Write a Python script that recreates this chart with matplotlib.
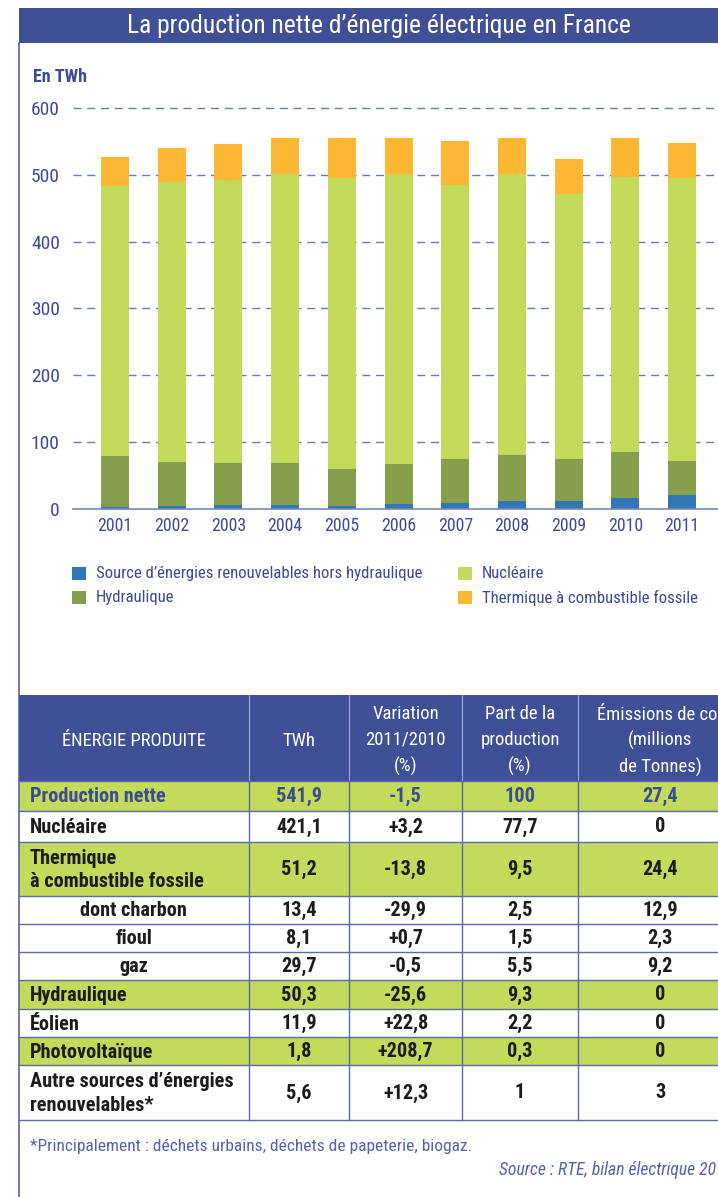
import matplotlib
matplotlib.use("Agg")
import matplotlib.pyplot as plt
from matplotlib.patches import Rectangle
import matplotlib.font_manager as fm
import numpy as np

# ---------------- data ----------------
years = ["2001", "2002", "2003", "2004", "2005", "2006", "2007", "2008", "2009", "2010", "2011"]
renouvelables = [2, 3.5, 5, 5, 3.5, 6.5, 8, 11, 11, 15.5, 20]
hydraulique = [77, 66.5, 63, 63, 56, 60.5, 66.5, 69.5, 63.5, 69.5, 51]
nucleaire = [404, 419, 424, 433.5, 436, 434.5, 410, 421, 397, 412, 425]
fossile = [44, 51, 54, 54, 60, 54, 66, 54, 52.5, 58.5, 52]
yticks = [0, 100, 200, 300, 400, 500, 600]

series_labels = ["Source d\u2019énergies renouvelables hors hydraulique", "Hydraulique",
                 "Nucléaire", "Thermique à combustible fossile"]

title = "La production nette d\u2019énergie électrique en France"
unit_label = "En TWh"

table_header = ["ÉNERGIE PRODUITE", "TWh", "Variation\n2011/2010\n(%)",
                "Part de la\nproduction\n(%)", "Émissions de co\u2082\n(millions\nde Tonnes)"]
row_labels = ["Production nette", "Nucléaire", "Thermique\nà combustible fossile",
              "dont charbon", "fioul", "gaz", "Hydraulique", "Éolien", "Photovoltaïque",
              "Autre sources d\u2019énergies\nrenouvelables*"]
col_twh = ["541,9", "421,1", "51,2", "13,4", "8,1", "29,7", "50,3", "11,9", "1,8", "5,6"]
col_var = ["-1,5", "+3,2", "-13,8", "-29,9", "+0,7", "-0,5", "-25,6", "+22,8", "+208,7", "+12,3"]
col_part = ["100", "77,7", "9,5", "2,5", "1,5", "5,5", "9,3", "2,2", "0,3", "1"]
col_co2 = ["27,4", "0", "24,4", "12,9", "2,3", "9,2", "0", "0", "0", "3"]
highlight_rows = [0, 2, 6, 8]
sub_rows = [3, 4, 5]

footnote = "*Principalement : déchets urbains, déchets de papeterie, biogaz."
source = "Source : RTE, bilan électrique 2011"

# ---------------- style ----------------
avail = {f.name for f in fm.fontManager.ttflist}
COND = "DejaVu Sans"
for cand in ["Roboto Condensed", "Liberation Sans Narrow", "Open Sans Condensed", "Arial Narrow", "Roboto"]:
    if cand in avail:
        COND = cand
        break
plt.rcParams["font.family"] = [COND, "DejaVu Sans"]
plt.rcParams["lines.scale_dashes"] = False

NAVY = "#3f5096"
DARK = "#3d4b94"
GRID = "#6d7ab6"
FRAME = "#4b5aa6"
LINE = "#5a68ad"
C_REN = "#2f77b6"
C_HYD = "#879f4c"
C_NUC = "#c4da5b"
C_FOS = "#fdb733"
GREEN_ROW = "#c4da5a"
TXT = "#1c1c1c"
colors = [C_REN, C_HYD, C_NUC, C_FOS]

W, H = 718, 1197
fig = plt.figure(figsize=(W / 100, H / 100), dpi=100)

bg = fig.add_axes([0, 0, 1, 1])
bg.set_xlim(0, W)
bg.set_ylim(H, 0)
bg.axis("off")

# title bar
bg.add_patch(Rectangle((18.5, 7.5), 740, 35, facecolor=NAVY, edgecolor="none"))
bg.text(379, 25.5, title, ha="center", va="center", color="white", fontsize=18.4)
# frame left line
bg.plot([18.5, 18.5], [42, H + 5], color=FRAME, lw=1.1, solid_capstyle="butt")
bg.text(33, 77, unit_label, ha="left", va="center", color=DARK, fontsize=13, fontweight="bold")

# ---------------- chart ----------------
x0_px, y0_px, ytop_px = 73, 508.5, 108.3
spacing, c0 = 56.7, 115
ax = fig.add_axes([x0_px / W, 1 - y0_px / H, (W - x0_px) / W, (y0_px - ytop_px) / H])
ax.set_ylim(0, 600)
ax.set_xlim((x0_px - c0) / spacing, (W - c0) / spacing)
ax.patch.set_alpha(0)
for s in ax.spines.values():
    s.set_visible(False)

xs = np.arange(len(years))
bottom = np.zeros(len(years))
for vals, col in zip([renouvelables, hydraulique, nucleaire, fossile], colors):
    ax.bar(xs, vals, width=28 / spacing, bottom=bottom, color=col, edgecolor="none", zorder=2)
    bottom += np.array(vals)

for yv in yticks[1:]:
    ax.axhline(yv, color=GRID, lw=1.0, linestyle=(0, (5.8, 4.1)), zorder=1, clip_on=False)
ax.axhline(0, color="#7a84b8", lw=1.2, zorder=3, clip_on=False)

ax.set_yticks(yticks)
ax.set_yticklabels([str(v) for v in yticks])
ax.set_xticks(xs)
ax.set_xticklabels(years)
ax.tick_params(axis="y", length=0, pad=9.5, labelsize=14, labelcolor=DARK)
ax.tick_params(axis="x", length=0, pad=6.0, labelsize=12.8, labelcolor=DARK)

# legend (manual layout)
leg_pos = [(72, 573.5), (72, 597.5), (458, 573.5), (458, 597.5)]
for (lx, ly), lab, col in zip(leg_pos, series_labels, colors):
    bg.add_patch(Rectangle((lx, ly - 6.7), 13.5, 13.5, facecolor=col, edgecolor="none"))
    bg.text(lx + 23.5, ly, lab, ha="left", va="center", color=DARK, fontsize=12.1)

# ---------------- table ----------------
col_edges = [18.5, 249, 349, 462, 578, 742]
row_edges = [695, 781, 811, 842, 896, 924, 952, 980, 1009, 1037, 1065, 1120]
col_centers = [(a + b) / 2 for a, b in zip(col_edges[:-1], col_edges[1:])]

bg.add_patch(Rectangle((col_edges[0], row_edges[0]), col_edges[-1] - col_edges[0],
                       row_edges[1] - row_edges[0], facecolor=NAVY, edgecolor="none"))
for cx in col_edges[1:-1]:
    bg.plot([cx, cx], [row_edges[0], row_edges[1]], color="#9aa4d4", lw=0.9)
for j, htxt in enumerate(table_header):
    bg.text(col_centers[j], (row_edges[0] + row_edges[1]) / 2 + 2.5, htxt, ha="center", va="center",
            color="white", fontsize=13.4, linespacing=1.52)

columns = [col_twh, col_var, col_part, col_co2]
FS = 14.6
for i, lab in enumerate(row_labels):
    top, bot = row_edges[i + 1], row_edges[i + 2]
    yc = (top + bot) / 2 + 0.5
    if i in highlight_rows:
        bg.add_patch(Rectangle((col_edges[0], top), col_edges[-1] - col_edges[0], bot - top,
                               facecolor=GREEN_ROW, edgecolor="none", zorder=1))
    color = DARK if i == 0 else TXT
    if i in sub_rows:
        bg.text(col_centers[0], yc, lab, ha="center", va="center", color=color,
                fontsize=FS, fontweight="bold", zorder=3)
    else:
        bg.text(30, yc + 0.5, lab, ha="left", va="center", color=color, fontsize=FS,
                fontweight="bold", linespacing=1.27, zorder=3)
    for j, colvals in enumerate(columns):
        bg.text(col_centers[j + 1], yc, colvals[i], ha="center", va="center", color=color,
                fontsize=FS, fontweight="bold", zorder=3)

for ry in row_edges[1:]:
    bg.plot([col_edges[0], col_edges[-1]], [ry, ry], color=LINE, lw=1.0, zorder=2)
for cx in col_edges[1:-1]:
    bg.plot([cx, cx], [row_edges[1], row_edges[-1]], color=LINE, lw=1.0, zorder=2)

bg.text(30, 1146, footnote, ha="left", va="center", color="#5262b0", fontsize=12.5)
bg.text(499, 1170, source, ha="left", va="center", color="#5262b0", fontsize=12.7, style="italic")

fig.savefig("out.png", dpi=100)
